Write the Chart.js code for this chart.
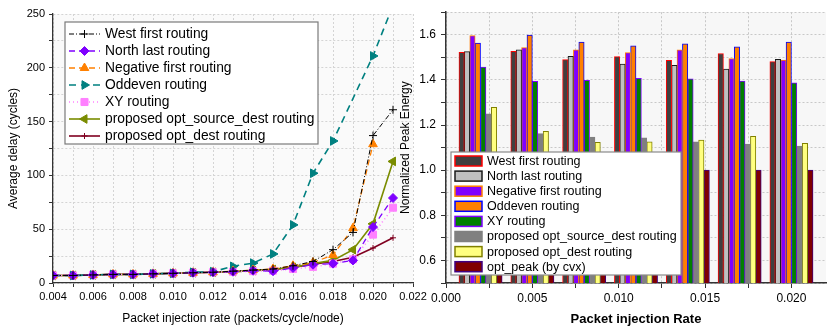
<!DOCTYPE html>
<html><head><meta charset="utf-8">
<script src="https://cdn.jsdelivr.net/npm/chart.js@4"></script>
<style>
html,body{margin:0;padding:0;background:#fff;width:830px;height:332px;overflow:hidden}
#c1{position:absolute;left:0;top:0}
#c2{position:absolute;left:395px;top:0}
</style></head><body>
<canvas id="c1" width="440" height="332"></canvas>
<canvas id="c2" width="435" height="332"></canvas>
<script>
// ---------- Left chart data (average delay, cycles) ----------
const injectionRates = [0.004,0.005,0.006,0.007,0.008,0.009,0.010,0.011,0.012,0.013,0.014,0.015,0.016,0.017,0.018,0.019,0.020,0.021];
const westFirstDelay   = [7,7,7.5,8,8,8.5,9,9.5,10,11,12,13,16,20,31,47,137,161];
const northLastDelay   = [7,7,7.5,8,8,8.5,9,9.5,10,10.5,11.5,11,14,17,18,21,52,79];
const negFirstDelay    = [7,7,7.5,8,8,8.5,9,9.5,10,11,12,13,16,19,26,51,129,null];
const oddevenDelay     = [7,7,7.5,8,8,8.5,9,10,10.5,15.5,18.5,27,54,102,132,null,211,258];
const xyDelay          = [7,7,7.5,8,8,8.5,9,9.5,10,10.5,11,11.5,13,15,18,22,45,70];
const optSrcDestDelay  = [7,7,7.5,8,8,8.5,9,9.5,10,10.5,11.5,12.5,14.5,18,21,31,55,113];
const optDestDelay     = [7,7,7.5,8,8,8.5,9,9.5,10,10.5,11.5,12.5,14.5,17.5,20,24,32.5,42];
const lineNames = ["West first routing","North last routing","Negative first routing","Oddeven routing","XY routing","proposed opt_source_dest routing","proposed opt_dest routing"];

// ---------- Right chart data (normalized peak energy) ----------
const barRates = [0.002,0.005,0.008,0.011,0.014,0.017,0.020];
const westFirstEnergy  = [1.522,1.527,1.490,1.503,1.487,1.517,1.481];
const northLastEnergy  = [1.525,1.533,1.504,1.470,1.465,1.448,1.491];
const negFirstEnergy   = [1.596,1.543,1.533,1.521,1.533,1.494,1.488];
const oddevenEnergy    = [1.563,1.599,1.568,1.551,1.560,1.546,1.568];
const xyEnergy         = [1.457,1.394,1.398,1.407,1.405,1.395,1.387];
const optSrcDestEnergy = [1.250,1.162,1.147,1.143,1.126,1.116,1.107];
const optDestEnergy    = [1.279,1.172,1.123,1.126,1.133,1.150,1.119];
const optPeakEnergy    = [1.0,1.0,1.0,1.0,1.0,1.0,1.0];
const barNames = ["West first routing","North last routing","Negative first routing","Oddeven routing","XY routing","proposed opt_source_dest routing","proposed opt_dest routing","opt_peak (by cvx)"];

// ---------- Tick settings ----------
const leftXTickStep = 0.001, leftXLabelEvery = 2;
const leftYTickStep = 25, leftYLabelEvery = 50;
const rightXTickStep = 0.0025, rightXLabelEvery = 0.005;
const rightYTickStep = 0.1;

const FONT = "'Liberation Sans', Arial, Helvetica, sans-serif";
Chart.defaults.font.family = FONT;
Chart.defaults.color = '#000';

function drawMarker(ctx, style, x, y, r, rot, color) {
  ctx.save();
  ctx.translate(x, y);
  ctx.rotate((rot || 0) * Math.PI / 180);
  ctx.fillStyle = color; ctx.strokeStyle = color; ctx.lineWidth = 1; ctx.setLineDash([]);
  ctx.beginPath();
  if (style === 'cross') {
    ctx.moveTo(-r, 0); ctx.lineTo(r, 0); ctx.moveTo(0, -r); ctx.lineTo(0, r); ctx.stroke();
  } else if (style === 'rectRot') {
    ctx.moveTo(0, -r); ctx.lineTo(r, 0); ctx.lineTo(0, r); ctx.lineTo(-r, 0); ctx.closePath(); ctx.fill(); ctx.stroke();
  } else if (style === 'triangle') {
    let a = 0;
    ctx.moveTo(Math.sin(a) * r, -Math.cos(a) * r);
    a += 2 * Math.PI / 3; ctx.lineTo(Math.sin(a) * r, -Math.cos(a) * r);
    a += 2 * Math.PI / 3; ctx.lineTo(Math.sin(a) * r, -Math.cos(a) * r);
    ctx.closePath(); ctx.fill(); ctx.stroke();
  } else if (style === 'rect') {
    const s = r * Math.SQRT1_2;
    ctx.rect(-s, -s, 2 * s, 2 * s); ctx.fill(); ctx.stroke();
  }
  ctx.restore();
}

const plotBg = {
  id: 'plotBg',
  beforeDraw(chart, args, opts) {
    const {ctx, chartArea: a} = chart;
    ctx.save(); ctx.fillStyle = opts.color; ctx.fillRect(a.left, a.top, a.right - a.left, a.bottom - a.top); ctx.restore();
  }
};

const lineLegend = {
  id: 'lineLegend',
  afterDraw(chart, args, o) {
    const ctx = chart.ctx;
    ctx.save();
    ctx.fillStyle = '#fff'; ctx.strokeStyle = '#7a7a7a'; ctx.lineWidth = 1.2;
    ctx.fillRect(o.left, o.top, o.width, o.height);
    ctx.strokeRect(o.left, o.top, o.width, o.height);
    chart.data.datasets.forEach((ds, i) => {
      const y = o.rowTop + i * o.rowH;
      ctx.save();
      ctx.strokeStyle = ds.borderColor; ctx.lineWidth = ds.borderWidth;
      ctx.setLineDash(ds.borderDash || []);
      ctx.beginPath(); ctx.moveTo(o.x1, y); ctx.lineTo(o.x2, y); ctx.stroke();
      ctx.restore();
      drawMarker(ctx, ds.pointStyle, (o.x1 + o.x2) / 2, y, ds.pointRadius, ds.pointRotation, ds.borderColor);
      ctx.fillStyle = '#000'; ctx.font = o.font; ctx.textBaseline = 'middle'; ctx.textAlign = 'left';
      ctx.fillText(ds.label, o.textX, y + 0.5);
    });
    ctx.restore();
  }
};

const barLegend = {
  id: 'barLegend',
  afterDraw(chart, args, o) {
    const ctx = chart.ctx;
    ctx.save();
    ctx.fillStyle = '#fff'; ctx.strokeStyle = '#8a8a8a'; ctx.lineWidth = 1.2;
    ctx.fillRect(o.left, o.top, o.width, o.height);
    ctx.strokeRect(o.left, o.top, o.width, o.height);
    chart.data.datasets.forEach((ds, i) => {
      const y = o.rowTop + i * o.rowH;
      ctx.fillStyle = ds.backgroundColor;
      ctx.fillRect(o.sx, y - o.sh / 2, o.sw, o.sh);
      ctx.strokeStyle = ds.borderColor; ctx.lineWidth = 1.5;
      ctx.strokeRect(o.sx, y - o.sh / 2, o.sw, o.sh);
      ctx.fillStyle = '#000'; ctx.font = o.font; ctx.textBaseline = 'middle'; ctx.textAlign = 'left';
      ctx.fillText(ds.label, o.textX, y + 0.5);
    });
    ctx.restore();
  }
};

function stepTicks(min, max, step) {
  const t = []; const n = Math.round((max - min) / step);
  for (let i = 0; i <= n; i++) t.push({value: +(min + i * step).toFixed(6)});
  return t;
}

// ---------- Left line chart ----------
const lineSeriesValues = [westFirstDelay, northLastDelay, negFirstDelay, oddevenDelay, xyDelay, optSrcDestDelay, optDestDelay];
const lineStyles = [
  {color:'#000000', dash:[5,2,1,2], width:1,   marker:'cross',    rot:0,   r:4},
  {color:'#7f00ff', dash:[6,4],     width:1.3, marker:'rectRot',  rot:0,   r:4.5},
  {color:'#ff8000', dash:[6,4],     width:1.3, marker:'triangle', rot:0,   r:5},
  {color:'#008080', dash:[7,5],     width:1.6, marker:'triangle', rot:90,  r:5},
  {color:'#ff80ff', dash:[1,3],     width:1.6, marker:'rect',     rot:0,   r:5},
  {color:'#7a8c00', dash:[],        width:1.6, marker:'triangle', rot:-90, r:5},
  {color:'#800020', dash:[],        width:1.6, marker:'cross',    rot:0,   r:3}
];

new Chart(document.getElementById('c1'), {
  type: 'line',
  data: {
    datasets: lineSeriesValues.map((vals, k) => ({
      label: lineNames[k],
      data: injectionRates.map((x, i) => ({x: x, y: vals[i]})),
      borderColor: lineStyles[k].color,
      backgroundColor: lineStyles[k].color,
      borderDash: lineStyles[k].dash,
      borderWidth: lineStyles[k].width,
      pointStyle: lineStyles[k].marker,
      pointRotation: lineStyles[k].rot,
      pointRadius: lineStyles[k].r,
      pointBorderWidth: 1,
      pointBackgroundColor: lineStyles[k].color,
      pointBorderColor: lineStyles[k].color,
      tension: 0,
      spanGaps: true
    }))
  },
  options: {
    responsive: false, animation: false, devicePixelRatio: 1,
    layout: {padding: {left: 0, top: 14, right: 27, bottom: 0}},
    plugins: {
      legend: {display: false}, tooltip: {enabled: false},
      plotBg: {color: '#fafafa'},
      lineLegend: {left: 65, top: 22, width: 253, height: 122, rowTop: 34, rowH: 17, x1: 69, x2: 100, textX: 105, font: '13.8px ' + FONT}
    },
    scales: {
      x: {
        type: 'linear', min: 0.004, max: 0.022,
        afterBuildTicks: s => { s.ticks = stepTicks(0.004, 0.022, leftXTickStep); },
        afterFit: s => { s.height = 49; },
        ticks: {
          autoSkip: false, maxRotation: 0, padding: 3, font: {size: 11},
          callback: v => (Math.round(v / leftXTickStep) % leftXLabelEvery === 0) ? v.toFixed(3) : ''
        },
        grid: {color: '#d4d4d4', tickColor: '#333', tickLength: 4, lineWidth: 1},
        border: {color: '#333', width: 1.3, dash: [2, 2]},
        title: {display: true, text: 'Packet injection rate (packets/cycle/node)', font: {size: 12}, padding: {top: 0, bottom: 6}}
      },
      y: {
        type: 'linear', min: 0, max: 250,
        afterBuildTicks: s => { s.ticks = stepTicks(0, 250, leftYTickStep); },
        afterFit: s => { s.width = 53; },
        ticks: {
          autoSkip: false, padding: 4, font: {size: 11},
          callback: v => (Math.round(v) % leftYLabelEvery === 0) ? String(Math.round(v)) : ''
        },
        grid: {color: '#d4d4d4', tickColor: '#333', tickLength: 4, lineWidth: 1},
        border: {color: '#333', width: 1.3, dash: [2, 2]},
        title: {display: true, text: 'Average delay (cycles)', font: {size: 12}, padding: {top: 6, bottom: 0}}
      }
    }
  },
  plugins: [plotBg, lineLegend]
});

// ---------- Right bar chart ----------
const barSeriesValues = [westFirstEnergy, northLastEnergy, negFirstEnergy, oddevenEnergy, xyEnergy, optSrcDestEnergy, optDestEnergy, optPeakEnergy];
const barStyles = [
  {fill:'#404040', border:'#ff0000'},
  {fill:'#c0c0c0', border:'#1a1a1a'},
  {fill:'#8000ff', border:'#ff8000'},
  {fill:'#ff8000', border:'#0000ff'},
  {fill:'#008000', border:'#8000ff'},
  {fill:'#808080', border:'#808080'},
  {fill:'#ffff80', border:'#808000'},
  {fill:'#800000', border:'#400080'}
];

new Chart(document.getElementById('c2'), {
  type: 'bar',
  data: {
    datasets: barSeriesValues.map((vals, k) => ({
      label: barNames[k],
      data: barRates.map((x, i) => ({x: x, y: vals[i]})),
      backgroundColor: barStyles[k].fill,
      borderColor: barStyles[k].border,
      borderWidth: 1,
      categoryPercentage: 1.0,
      barPercentage: 1.0
    }))
  },
  options: {
    responsive: false, animation: false, devicePixelRatio: 1,
    layout: {padding: {left: 0, top: 2, right: 4, bottom: 0}},
    plugins: {
      legend: {display: false}, tooltip: {enabled: false},
      plotBg: {color: '#f7f7f7'},
      barLegend: {left: 56, top: 152, width: 230, height: 123, rowTop: 161, rowH: 15.1, sx: 60, sw: 27, sh: 10, textX: 92, font: '12.5px ' + FONT}
    },
    scales: {
      x: {
        type: 'linear', min: 0, max: 0.022, offset: false,
        afterBuildTicks: s => { s.ticks = stepTicks(0, 0.02, rightXTickStep); },
        afterFit: s => { s.height = 49; },
        ticks: {
          autoSkip: false, maxRotation: 0, padding: 3, font: {size: 12},
          callback: v => (Math.abs(v / rightXLabelEvery - Math.round(v / rightXLabelEvery)) < 1e-6) ? v.toFixed(3) : ''
        },
        grid: {color: '#c8c8c8', tickColor: '#333', tickLength: 5, offset: false},
        border: {color: '#333', width: 1.5, dash: [2, 2]},
        title: {display: true, text: 'Packet injection Rate', font: {size: 13, weight: 'bold'}, padding: {top: 0, bottom: 5}}
      },
      y: {
        type: 'linear', min: 0.5, max: 1.7,
        afterBuildTicks: s => { s.ticks = stepTicks(0.5, 1.7, rightYTickStep); },
        afterFit: s => { s.width = 51; },
        ticks: {
          autoSkip: false, padding: 5, font: {size: 12},
          callback: v => { const t = Math.round(v * 10); return (t % 2 === 0 && t >= 6 && t <= 16) ? (t / 10).toFixed(1) : ''; }
        },
        grid: {color: '#c8c8c8', tickColor: '#333', tickLength: 5},
        border: {color: '#333', width: 1.5, dash: [2, 2]},
        title: {display: true, text: 'Normalized Peak Energy', font: {size: 12}, padding: {top: 3, bottom: 0}}
      }
    }
  },
  plugins: [plotBg, barLegend]
});
</script>
</body></html>
